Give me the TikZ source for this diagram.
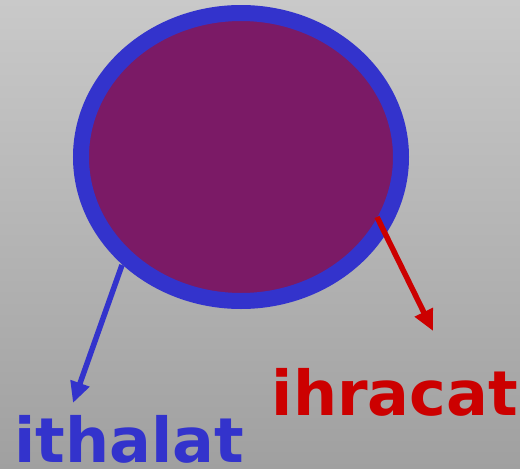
\documentclass[tikz,border=0pt]{standalone}
\usepackage{fontspec}
\setmainfont{DejaVu Sans}
\usetikzlibrary{arrows.meta,shapes.geometric}
\definecolor{ringblue}{HTML}{3333CC}
\definecolor{fillpurple}{HTML}{7B1A66}
\definecolor{arrred}{HTML}{CC0000}
\definecolor{bgtop}{HTML}{C9C9C9}
\definecolor{bgbot}{HTML}{A0A0A0}
\tikzset{
  conn/.style={line width=5.5pt, -{Triangle[length=21pt,width=19pt]}},
  lbl/.style={font=\bfseries\fontsize{62}{62}\selectfont, inner sep=0pt, anchor=base, text depth=0pt}
}
\begin{document}
\begin{tikzpicture}[x=1pt,y=-1pt]
\shade[top color=bgtop, bottom color=bgbot] (0,0) rectangle (520,469);
\useasboundingbox (0,0) rectangle (520,469);
\node[ellipse, draw=ringblue, line width=16pt, fill=fillpurple, minimum width=320pt, minimum height=288pt, inner sep=0pt] (circ) at (241,157) {};
\coordinate (bs) at (122,265);
\coordinate (rs) at (377,217);
\node[lbl, text=ringblue] (ith) at (129,462) {ithalat};
\node[lbl, text=arrred] (ihr) at (395,415) {ihracat};
\coordinate (bt) at (73,403);
\coordinate (rt) at (433,331);
\draw[conn, ringblue] (bs) -- (bt);
\draw[conn, arrred] (rs) -- (rt);
\end{tikzpicture}
\end{document}
